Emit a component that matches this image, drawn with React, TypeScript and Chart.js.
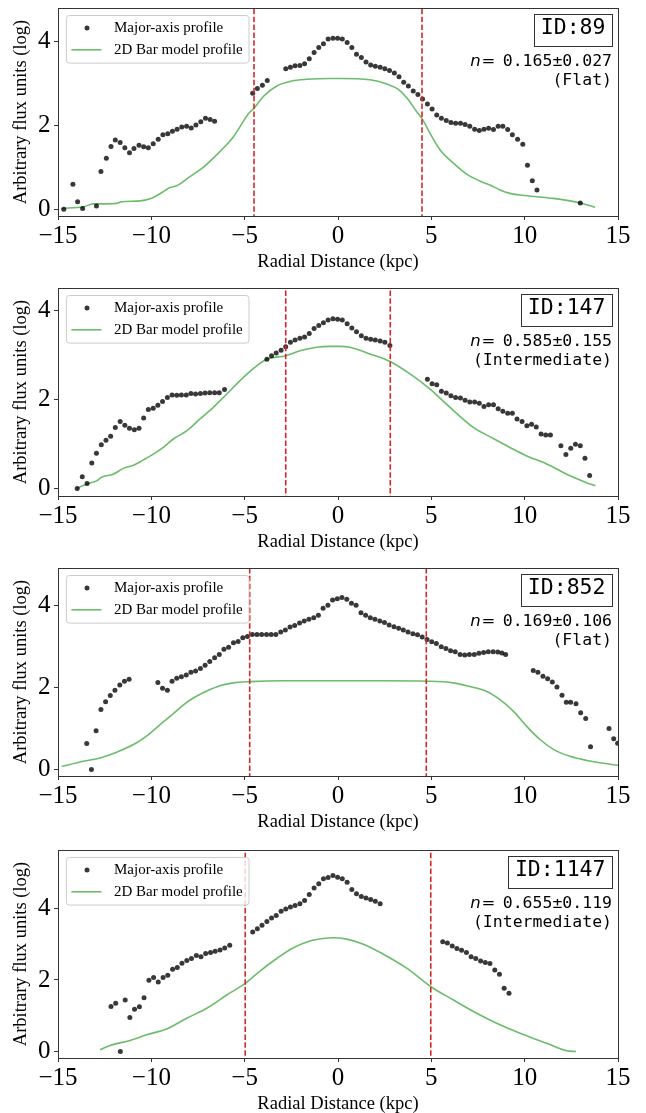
import React, { useEffect, useRef } from "react";
import { Chart, registerables } from "chart.js";

Chart.register(...registerables);

// ---------- labels / meta ----------
const xTickValues = [-15, -10, -5, 0, 5, 10, 15];
const yTickValues = [0, 2, 4];
const legendLabels = ["Major-axis profile", "2D Bar model profile"];
const xTitle = "Radial Distance (kpc)";
const yTitle = "Arbitrary flux units (log)";
const panelIds = ["ID:89", "ID:147", "ID:852", "ID:1147"];
const nValues = ["0.165±0.027", "0.585±0.155", "0.169±0.106", "0.655±0.119"];
const barClasses = ["(Flat)", "(Intermediate)", "(Flat)", "(Intermediate)"];
const barRadii = [4.5, 2.8, 4.73, 4.97];
const yMins = [-0.16, -0.17, -0.16, -0.18];
const yMaxs = [4.8, 4.5, 4.91, 5.63];

// ---------- panel 1 (ID:89) ----------
const major89 = [
  [-14.69, 0], [-14.2, 0.6], [-13.95, 0.18], [-13.68, 0.02], [-12.94, 0.08], [-12.7, 0.9], [-12.41, 1.22],
  [-12.16, 1.5], [-11.93, 1.65], [-11.67, 1.59], [-11.42, 1.47], [-11.17, 1.35], [-10.93, 1.45], [-10.66, 1.53],
  [-10.41, 1.49], [-10.16, 1.47], [-9.9, 1.56], [-9.63, 1.67], [-9.38, 1.78], [-9.12, 1.8], [-8.87, 1.86],
  [-8.62, 1.91], [-8.37, 1.96], [-8.11, 1.98], [-7.86, 1.94], [-7.61, 2.01], [-7.35, 2.09], [-7.1, 2.17],
  [-6.85, 2.14], [-6.61, 2.1],
  [-4.57, 2.77], [-4.32, 2.88], [-4.05, 2.96], [-3.79, 3.07],
  [-2.8, 3.35], [-2.55, 3.39], [-2.3, 3.42], [-2.04, 3.43], [-1.79, 3.47], [-1.54, 3.59], [-1.28, 3.74],
  [-1.03, 3.86], [-0.78, 3.95], [-0.53, 4.06], [-0.27, 4.08], [-0.02, 4.08], [0.23, 4.06], [0.49, 3.98],
  [0.74, 3.86], [0.99, 3.7], [1.25, 3.62], [1.5, 3.51], [1.75, 3.44], [2.0, 3.41], [2.26, 3.39], [2.51, 3.35],
  [2.76, 3.31], [3.02, 3.25], [3.27, 3.16], [3.52, 3.03], [3.77, 2.94], [4.03, 2.82], [4.28, 2.74], [4.53, 2.63],
  [4.79, 2.51], [5.04, 2.39], [5.29, 2.25], [5.54, 2.17], [5.8, 2.12], [6.05, 2.07], [6.3, 2.05], [6.56, 2.05],
  [6.81, 2.02], [7.06, 1.98], [7.32, 1.91], [7.57, 1.88], [7.82, 1.91], [8.07, 1.93], [8.33, 1.9], [8.58, 1.98],
  [8.83, 1.98], [9.09, 1.9], [9.34, 1.78], [9.62, 1.67], [9.9, 1.55], [10.15, 1.05], [10.41, 0.68],
  [10.66, 0.46], [12.98, 0.15],
];
const model89 = [
  [-14.82, 0.02], [-13.64, 0.06], [-13.1, 0.13], [-12.75, 0.13], [-11.86, 0.14], [-11.59, 0.18], [-10.6, 0.2],
  [-10.07, 0.25], [-9.54, 0.37], [-9.0, 0.52], [-8.64, 0.56], [-7.93, 0.78], [-7.22, 1.0], [-6.68, 1.22],
  [-6.14, 1.46], [-5.6, 1.73], [-5.25, 1.97], [-4.8, 2.28], [-4.5, 2.41], [-4.0, 2.69], [-3.28, 2.94],
  [-2.48, 3.06], [-1.68, 3.1], [-0.43, 3.12], [0.11, 3.12], [1.71, 3.09], [2.61, 2.99], [3.23, 2.86],
  [3.77, 2.61], [4.21, 2.33], [4.52, 2.15], [4.93, 1.81], [5.46, 1.42], [6.18, 1.1], [6.89, 0.84],
  [7.78, 0.64], [8.14, 0.58], [8.68, 0.46], [9.21, 0.38], [9.75, 0.34], [10.64, 0.3], [11.53, 0.26],
  [12.43, 0.2], [13.14, 0.13], [13.77, 0.05],
];

// ---------- panel 2 (ID:147) ----------
const major147 = [
  [-13.97, 0], [-13.7, 0.26], [-13.44, 0.11], [-13.19, 0.57], [-12.94, 0.79], [-12.68, 0.98], [-12.43, 1.08],
  [-12.18, 1.17], [-11.93, 1.37], [-11.67, 1.5], [-11.42, 1.42], [-11.17, 1.35], [-10.91, 1.32], [-10.66, 1.35],
  [-10.41, 1.58], [-10.16, 1.77], [-9.9, 1.8], [-9.65, 1.87], [-9.4, 1.95], [-9.14, 2.04], [-8.89, 2.1],
  [-8.64, 2.09], [-8.39, 2.1], [-8.13, 2.1], [-7.88, 2.13], [-7.63, 2.12], [-7.37, 2.13], [-7.12, 2.14],
  [-6.87, 2.15], [-6.61, 2.15], [-6.36, 2.15], [-6.08, 2.22],
  [-3.81, 2.9], [-3.56, 2.98], [-3.31, 3.04], [-3.05, 3.1], [-2.8, 3.18], [-2.55, 3.28], [-2.3, 3.33],
  [-2.04, 3.37], [-1.79, 3.4], [-1.54, 3.48], [-1.28, 3.59], [-1.03, 3.66], [-0.78, 3.72], [-0.53, 3.78],
  [-0.27, 3.81], [-0.02, 3.8], [0.23, 3.78], [0.49, 3.7], [0.74, 3.6], [0.99, 3.52], [1.25, 3.43], [1.5, 3.37],
  [1.75, 3.35], [2.0, 3.33], [2.26, 3.31], [2.51, 3.28], [2.78, 3.21],
  [4.79, 2.45], [5.04, 2.35], [5.29, 2.33], [5.54, 2.18], [5.8, 2.14], [6.05, 2.08], [6.3, 2.04], [6.56, 2.03],
  [6.81, 1.98], [7.06, 1.94], [7.32, 1.94], [7.57, 1.91], [7.82, 1.84], [8.07, 1.88], [8.33, 1.88], [8.58, 1.79],
  [8.83, 1.73], [9.09, 1.69], [9.34, 1.69], [9.59, 1.56], [9.86, 1.5], [10.12, 1.41], [10.37, 1.44],
  [10.62, 1.38], [10.88, 1.22], [11.13, 1.2], [11.38, 1.2], [11.94, 0.96], [12.21, 0.76], [12.47, 0.9],
  [12.72, 0.99], [12.98, 0.96], [13.23, 0.68], [13.48, 0.29],
];
const model147 = [
  [-14.0, 0.0], [-13.46, 0.1], [-12.93, 0.17], [-12.66, 0.25], [-12.04, 0.32], [-11.5, 0.45], [-10.96, 0.52],
  [-10.43, 0.64], [-9.89, 0.77], [-9.36, 0.92], [-8.82, 1.11], [-8.11, 1.29], [-7.39, 1.56], [-6.68, 1.82],
  [-5.96, 2.12], [-5.25, 2.42], [-4.54, 2.69], [-3.82, 2.9], [-2.8, 2.98], [-2.04, 3.09], [-1.14, 3.17],
  [-0.43, 3.19], [0.11, 3.19], [0.64, 3.17], [1.71, 3.02], [2.79, 2.85], [3.86, 2.57], [4.93, 2.23],
  [6.0, 1.82], [7.25, 1.37], [8.32, 1.12], [9.21, 0.92], [10.11, 0.73], [11.18, 0.55], [12.25, 0.32],
  [13.32, 0.13], [13.79, 0.06],
];

// ---------- panel 3 (ID:852) ----------
const major852 = [
  [-13.46, 0.63], [-13.21, 0], [-12.96, 0.94], [-12.7, 1.46], [-12.45, 1.65], [-12.2, 1.8], [-11.95, 1.93],
  [-11.69, 2.06], [-11.44, 2.15], [-11.19, 2.2],
  [-9.65, 2.12], [-9.4, 1.98], [-9.14, 1.93], [-8.89, 2.15], [-8.64, 2.22], [-8.39, 2.26], [-8.13, 2.3],
  [-7.88, 2.37], [-7.63, 2.4], [-7.37, 2.46], [-7.12, 2.54], [-6.87, 2.63], [-6.61, 2.72], [-6.36, 2.8],
  [-6.11, 2.93], [-5.86, 2.98], [-5.6, 3.09], [-5.35, 3.12], [-5.1, 3.21], [-4.85, 3.24], [-4.59, 3.29],
  [-4.34, 3.29], [-4.09, 3.29], [-3.83, 3.29], [-3.58, 3.29], [-3.33, 3.29], [-3.07, 3.35], [-2.82, 3.4],
  [-2.57, 3.47], [-2.32, 3.51], [-2.06, 3.57], [-1.81, 3.62], [-1.56, 3.66], [-1.3, 3.7], [-1.05, 3.76],
  [-0.8, 3.93], [-0.54, 4.0], [-0.29, 4.13], [-0.04, 4.16], [0.21, 4.19], [0.47, 4.15], [0.72, 4.05],
  [0.97, 4.0], [1.23, 3.82], [1.48, 3.76], [1.73, 3.7], [1.98, 3.66], [2.24, 3.62], [2.49, 3.58], [2.74, 3.52],
  [3.0, 3.48], [3.25, 3.44], [3.5, 3.4], [3.75, 3.35], [4.01, 3.31], [4.26, 3.28], [4.51, 3.23], [4.77, 3.17],
  [5.02, 3.11], [5.27, 3.07], [5.53, 2.99], [5.78, 2.95], [6.03, 2.89], [6.28, 2.87], [6.54, 2.8],
  [6.79, 2.79], [7.04, 2.8], [7.3, 2.8], [7.55, 2.83], [7.8, 2.85], [8.05, 2.87], [8.31, 2.87], [8.56, 2.86],
  [8.78, 2.84], [8.98, 2.8],
  [10.46, 2.41], [10.71, 2.37], [10.98, 2.27], [11.23, 2.21], [11.48, 2.13], [11.73, 2.01], [12.0, 1.81],
  [12.23, 1.64], [12.46, 1.64], [12.75, 1.6], [13.0, 1.38], [13.27, 1.24], [13.53, 0.55], [14.52, 1.0],
  [14.77, 0.75], [14.98, 0.64],
];
const model852 = [
  [-14.8, 0.07], [-13.64, 0.2], [-12.75, 0.28], [-11.86, 0.42], [-10.79, 0.65], [-10.07, 0.88], [-9.36, 1.16],
  [-8.82, 1.36], [-8.38, 1.54], [-7.75, 1.74], [-7.03, 1.91], [-6.32, 2.04], [-5.61, 2.11], [-4.71, 2.14],
  [-2.93, 2.16], [-0.43, 2.16], [2.5, 2.16], [4.75, 2.15], [6.18, 2.11], [7.07, 2.02], [7.97, 1.9],
  [8.68, 1.7], [9.39, 1.42], [10.11, 1.05], [10.82, 0.73], [11.54, 0.49], [12.43, 0.32], [13.32, 0.22],
  [14.21, 0.15], [15.02, 0.1],
];

// ---------- panel 4 (ID:1147) ----------
const major1147 = [
  [-12.16, 1.26], [-11.91, 1.35], [-11.66, 0], [-11.4, 1.44], [-11.15, 0.95], [-10.9, 1.18], [-10.64, 1.25],
  [-10.39, 1.5], [-10.13, 1.99], [-9.88, 2.07], [-9.63, 1.94], [-9.37, 2.07], [-9.12, 2.13], [-8.86, 2.3],
  [-8.61, 2.35], [-8.36, 2.47], [-8.1, 2.54], [-7.85, 2.6], [-7.59, 2.68], [-7.34, 2.65], [-7.09, 2.74],
  [-6.83, 2.77], [-6.58, 2.8], [-6.32, 2.84], [-6.07, 2.89], [-5.8, 2.97],
  [-4.57, 3.34], [-4.32, 3.43], [-4.07, 3.53], [-3.81, 3.63], [-3.56, 3.73], [-3.31, 3.8], [-3.05, 3.92],
  [-2.8, 3.98], [-2.55, 4.04], [-2.3, 4.08], [-2.04, 4.13], [-1.79, 4.22], [-1.54, 4.39], [-1.28, 4.57],
  [-1.03, 4.69], [-0.78, 4.83], [-0.53, 4.86], [-0.27, 4.92], [-0.02, 4.87], [0.23, 4.83], [0.49, 4.73],
  [0.74, 4.53], [0.99, 4.41], [1.25, 4.33], [1.5, 4.29], [1.75, 4.25], [2.0, 4.2], [2.26, 4.13],
  [5.61, 3.07], [5.86, 3.03], [6.12, 2.95], [6.37, 2.88], [6.62, 2.83], [6.88, 2.77], [7.13, 2.65],
  [7.38, 2.6], [7.64, 2.53], [7.89, 2.49], [8.14, 2.46], [8.4, 2.28], [8.65, 2.16], [8.9, 1.77], [9.16, 1.63],
];
const model1147 = [
  [-12.75, 0.05], [-12.21, 0.17], [-11.14, 0.31], [-10.25, 0.47], [-9.18, 0.63], [-8.11, 0.93], [-7.03, 1.21],
  [-5.96, 1.58], [-4.95, 1.91], [-4.18, 2.25], [-3.28, 2.6], [-2.39, 2.9], [-1.5, 3.09], [-0.79, 3.16],
  [-0.25, 3.18], [0.46, 3.14], [1.36, 3.0], [2.43, 2.72], [3.68, 2.33], [4.98, 1.81], [6.18, 1.44],
  [7.43, 1.07], [8.5, 0.79], [9.75, 0.51], [11.18, 0.23], [12.25, 0.02], [12.75, 0.0],
];

const majorSeries = [major89, major147, major852, major1147];
const modelSeries = [model89, model147, model852, model1147];

// ---------- styling ----------
const SERIF = "'Liberation Serif', 'Times New Roman', serif";
const MONO = "'DejaVu Sans Mono', monospace";
const SANS = "'DejaVu Sans', sans-serif";
const GREEN = "#6bbc6b";
const RED = "#d62728";
const DOT = "rgba(0,0,0,0.78)";
const AXIS = "#333333";
const CANVAS_W = 646;
const CANVAS_H = 280;
const PAD_TOP = 8;
const PLOT_H = 208;
const panelTops = [0, 280, 560, 842];

const toPts = (arr: number[][]) => arr.map(([x, y]) => ({ x, y }));
const fmt = (v: number) => (v < 0 ? "\u2212" + Math.abs(v) : String(v));

function overlayPlugin(idx: number) {
  return {
    id: "overlay" + idx,
    afterDraw(chart: any) {
      const ctx = chart.ctx as CanvasRenderingContext2D;
      const a = chart.chartArea;
      ctx.save();

      // frame (all four spines)
      ctx.strokeStyle = AXIS;
      ctx.lineWidth = 1;
      ctx.strokeRect(Math.round(a.left) + 0.5, Math.round(a.top) + 0.5,
        Math.round(a.right) - Math.round(a.left), Math.round(a.bottom) - Math.round(a.top));

      // legend box
      const bx = a.left + 8.4, by = a.top + 7.5, bw = 182.6, bh = 47.6;
      ctx.beginPath();
      (ctx as any).roundRect(bx, by, bw, bh, 3);
      ctx.fillStyle = "rgba(255,255,255,0.8)";
      ctx.fill();
      ctx.strokeStyle = "#cccccc";
      ctx.lineWidth = 1;
      ctx.stroke();

      const row1 = by + 12.6, row2 = by + 34.3;
      ctx.fillStyle = DOT;
      ctx.beginPath();
      ctx.arc(bx + 20.6, row1, 2.5, 0, Math.PI * 2);
      ctx.fill();
      ctx.strokeStyle = GREEN;
      ctx.lineWidth = 1.6;
      ctx.beginPath();
      ctx.moveTo(bx + 5, row2);
      ctx.lineTo(bx + 35, row2);
      ctx.stroke();

      ctx.fillStyle = "#000";
      ctx.font = `15px ${SERIF}`;
      ctx.textAlign = "left";
      ctx.textBaseline = "middle";
      ctx.fillText(legendLabels[0], bx + 47.6, row1);
      ctx.fillText(legendLabels[1], bx + 47.6, row2);

      // ID box
      ctx.font = `21.5px ${MONO}`;
      const id = panelIds[idx];
      const tw = ctx.measureText(id).width;
      const iw = tw + 13, ih = 31.7;
      const ix = a.right - 6 - iw, iy = a.top + 5.7;
      ctx.fillStyle = "#fff";
      ctx.fillRect(ix, iy, iw, ih);
      ctx.strokeStyle = "#333";
      ctx.lineWidth = 1;
      ctx.strokeRect(Math.round(ix) + 0.5, Math.round(iy) + 0.5, Math.round(iw), Math.round(ih));
      ctx.fillStyle = "#000";
      ctx.textAlign = "center";
      ctx.fillText(id, ix + iw / 2, a.top + 20.5);

      // n = value line
      const R = a.right - 6;
      const y1 = a.top + 54.2;
      ctx.font = `16.5px ${MONO}`;
      ctx.textAlign = "right";
      ctx.fillText(nValues[idx], R, y1);
      const mw = ctx.measureText(nValues[idx]).width;
      ctx.font = `16.5px ${SANS}`;
      ctx.textAlign = "center";
      ctx.fillText("=", R - mw - 14.4, y1);
      ctx.font = `italic 16.5px ${SANS}`;
      ctx.textAlign = "right";
      ctx.fillText("n", R - mw - 22, y1);
      ctx.font = `16.5px ${MONO}`;
      ctx.textAlign = "right";
      ctx.fillText(barClasses[idx], R, a.top + 72.3);

      ctx.restore();
    },
  };
}

function Panel({ idx }: { idx: number }) {
  const ref = useRef<HTMLCanvasElement | null>(null);
  useEffect(() => {
    const canvas = ref.current;
    if (!canvas) return;
    const r = barRadii[idx];
    const chart = new Chart(canvas, {
      type: "scatter",
      data: {
        datasets: [
          {
            type: "line",
            label: legendLabels[1],
            data: toPts(modelSeries[idx]),
            borderColor: GREEN,
            backgroundColor: GREEN,
            borderWidth: 1.6,
            pointRadius: 0,
            fill: false,
            cubicInterpolationMode: "monotone",
            order: 3,
          } as any,
          {
            type: "scatter",
            label: legendLabels[0],
            data: toPts(majorSeries[idx]),
            backgroundColor: DOT,
            borderWidth: 0,
            pointRadius: 2.5,
            order: 2,
          } as any,
          {
            type: "line",
            label: "bar-left",
            data: [{ x: -r, y: -1 }, { x: -r, y: 10 }],
            borderColor: RED,
            borderWidth: 1.6,
            borderDash: [5.5, 2.4],
            pointRadius: 0,
            fill: false,
            order: 1,
          } as any,
          {
            type: "line",
            label: "bar-right",
            data: [{ x: r, y: -1 }, { x: r, y: 10 }],
            borderColor: RED,
            borderWidth: 1.6,
            borderDash: [5.5, 2.4],
            pointRadius: 0,
            fill: false,
            order: 1,
          } as any,
        ],
      },
      options: {
        animation: false,
        responsive: false,
        devicePixelRatio: 1,
        events: [],
        layout: { padding: { top: PAD_TOP, right: 28, left: 0, bottom: 0 } },
        plugins: { legend: { display: false }, tooltip: { enabled: false }, title: { display: false } },
        scales: {
          x: {
            type: "linear",
            min: -15,
            max: 15,
            afterBuildTicks: (s: any) => {
              s.ticks = xTickValues.map((v) => ({ value: v }));
            },
            afterFit: (s: any) => {
              s.height = CANVAS_H - PAD_TOP - PLOT_H;
              s.paddingLeft = 0;
              s.paddingRight = 0;
            },
            ticks: {
              autoSkip: false,
              maxRotation: 0,
              padding: 1,
              color: "#000",
              font: { family: SERIF, size: 25 },
              callback: (v: any) => fmt(Number(v)),
            },
            grid: { drawOnChartArea: false, drawTicks: true, tickLength: 4, color: AXIS, lineWidth: 1 },
            border: { display: false },
            title: {
              display: true,
              text: xTitle,
              color: "#000",
              font: { family: SERIF, size: 18.5 },
              padding: { top: 0, bottom: 6.9 },
            },
          },
          y: {
            type: "linear",
            min: yMins[idx],
            max: yMaxs[idx],
            afterBuildTicks: (s: any) => {
              s.ticks = yTickValues.map((v) => ({ value: v }));
            },
            afterFit: (s: any) => {
              s.width = 58;
              s.paddingTop = 0;
              s.paddingBottom = 0;
            },
            ticks: {
              padding: 3.5,
              color: "#000",
              font: { family: SERIF, size: 25 },
              callback: (v: any) => fmt(Number(v)),
            },
            grid: { drawOnChartArea: false, drawTicks: true, tickLength: 4, color: AXIS, lineWidth: 1 },
            border: { display: false },
            title: {
              display: true,
              text: yTitle,
              color: "#000",
              font: { family: SERIF, size: 18.5 },
              padding: { top: 10.2, bottom: 0 },
            },
          },
        },
      } as any,
      plugins: [overlayPlugin(idx)],
    });
    return () => chart.destroy();
  }, [idx]);
  return (
    <canvas
      ref={ref}
      width={CANVAS_W}
      height={CANVAS_H}
      style={{ position: "absolute", left: 0, top: panelTops[idx], width: CANVAS_W, height: CANVAS_H, display: "block" }}
    />
  );
}

export default function App() {
  return (
    <div
      style={{
        position: "absolute",
        left: 0,
        top: 0,
        width: CANVAS_W,
        height: 1113,
        overflow: "hidden",
        background: "#fff",
      }}
    >
      {[0, 1, 2, 3].map((i) => (
        <Panel key={i} idx={i} />
      ))}
    </div>
  );
}
